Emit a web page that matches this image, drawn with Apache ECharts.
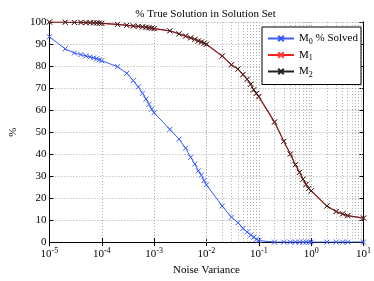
<!DOCTYPE html>
<html>
<head>
<meta charset="utf-8">
<script src="https://cdn.jsdelivr.net/npm/echarts@6/dist/echarts.min.js"></script>
<style>html,body{margin:0;padding:0;background:#fff}#c{width:374px;height:281px}</style>
</head>
<body>
<div id="c"></div>
<script>
const noiseVariance = [
  1e-5,2e-5,3e-5,4e-5,5e-5,6e-5,7e-5,8e-5,9e-5,
  1e-4,2e-4,3e-4,4e-4,5e-4,6e-4,7e-4,8e-4,9e-4,
  1e-3,2e-3,3e-3,4e-3,5e-3,6e-3,7e-3,8e-3,9e-3,
  1e-2,2e-2,3e-2,4e-2,5e-2,6e-2,7e-2,8e-2,9e-2,
  1e-1,2e-1,3e-1,4e-1,5e-1,6e-1,7e-1,8e-1,9e-1,
  1,2,3,4,5,10
];
const m0Solved = [
  93.3,87.8,85.9,85.2,84.6,84.1,83.7,83.3,82.8,
  82.4,79.7,76.7,73.4,70.5,67.6,65.0,62.6,60.4,
  58.8,51.2,46.8,42.7,38.5,35.5,32.4,30.4,28.0,
  26.0,16.4,11.3,8.8,6.2,4.6,3.2,2.2,1.3,
  0.7,0,0,0,0,0,0,0,0,
  0,0,0,0,0,0
];
const m1 = [
  100,99.9,99.8,99.8,99.7,99.7,99.6,99.6,99.5,
  99.4,98.9,98.5,98.2,98.0,97.8,97.6,97.4,97.2,
  97.0,96.0,94.6,93.6,92.8,92.1,91.4,90.9,90.4,
  89.9,84.5,80.5,78.6,76.1,74.0,71.7,69.2,67.5,
  66.0,54.5,45.8,40.0,35.1,31.7,28.6,26.2,24.4,
  23.3,16.4,13.9,12.8,12.0,10.9
];
const m2 = [
  100,99.9,99.8,99.8,99.7,99.7,99.6,99.6,99.5,
  99.4,98.9,98.5,98.2,98.0,97.8,97.6,97.4,97.2,
  97.0,96.0,94.6,93.6,92.8,92.1,91.4,90.9,90.4,
  89.9,84.6,80.6,78.6,76.2,74.0,71.8,69.2,67.6,
  66.1,54.6,45.8,40.0,35.2,31.7,28.6,26.2,24.4,
  23.3,16.4,13.9,12.8,12.0,10.9
];
const seriesNames = ['M0 % Solved','M1','M2'];
const titleText = '% True Solution in Solution Set';
const xName = 'Noise Variance';
const yName = '%';

const FONT = 'Liberation Serif';
const xMark = 'path://M0,0L10,10M10,0L0,10';

// minor grid positions on the log axis (2..9 within each decade)
const minorLines = [];
for (let k = -5; k <= 0; k++) {
  for (let d = 2; d <= 9; d++) minorLines.push({ xAxis: d * Math.pow(10, k) });
}

function pairs(ys) { return noiseVariance.map((x, i) => [x, ys[i]]); }

const chart = echarts.init(document.getElementById('c'), null, { renderer: 'canvas' });
const gridStyle = { type: [1, 2], color: '#ababab', width: 1 };
const rich = {
  b: { fontFamily: FONT, fontSize: 11, color: '#000' },
  s: { fontFamily: FONT, fontSize: 8, color: '#000', padding: [0, 0, 7, 0] },
  sub: { fontFamily: FONT, fontSize: 8, color: '#000', padding: [6, 0, 0, 0] }
};

chart.setOption({
  animation: false,
  backgroundColor: '#fff',
  title: {
    text: titleText, left: 200.5, top: 4, textAlign: 'center',
    textStyle: { fontFamily: FONT, fontSize: 11, fontWeight: 'normal', color: '#000' }
  },
  grid: { left: 37, right: 10, top: 22, bottom: 32, containLabel: false },
  legend: {
    orient: 'vertical', left: 262, top: 27,
    padding: [6, 3, 6, 5], itemGap: 4, itemWidth: 26, itemHeight: 7,
    borderColor: '#000', borderWidth: 1, backgroundColor: '#fff',
    data: seriesNames,
    formatter: function (n) {
      if (n === 'M0 % Solved') return '{b|M}{sub|0}{b| % Solved}';
      if (n === 'M1') return '{b|M}{sub|1}';
      return '{b|M}{sub|2}';
    },
    textStyle: { fontFamily: FONT, fontSize: 11, color: '#000', rich: rich }
  },
  xAxis: [{
    type: 'log', logBase: 10, min: 1e-5, max: 10,
    name: xName, nameLocation: 'middle', nameGap: 22,
    nameTextStyle: { fontFamily: FONT, fontSize: 11, color: '#000' },
    axisLine: { show: true, lineStyle: { color: '#000', width: 1 } },
    axisTick: { show: true, inside: true, length: 4, lineStyle: { color: '#000' } },
    axisLabel: {
      margin: 5, color: '#000',
      formatter: function (v) { return '{b|10}{s|' + Math.round(Math.log10(v)) + '}'; },
      rich: rich
    },
    splitLine: { show: true, lineStyle: gridStyle }
  }, {
    type: 'log', logBase: 10, min: 1e-5, max: 10, position: 'top',
    axisLine: { show: true, lineStyle: { color: '#000', width: 1 } },
    axisTick: { show: true, inside: true, length: 4, lineStyle: { color: '#000' } },
    axisLabel: { show: false }, splitLine: { show: false }
  }],
  yAxis: [{
    type: 'value', min: 0, max: 100, interval: 10,
    name: yName, nameLocation: 'middle', nameGap: 25, nameRotate: 90,
    nameTextStyle: { fontFamily: FONT, fontSize: 11, color: '#000' },
    axisLine: { show: true, lineStyle: { color: '#000', width: 1 } },
    axisTick: { show: true, inside: true, length: 4, lineStyle: { color: '#000' } },
    axisLabel: { margin: 3, fontFamily: FONT, fontSize: 11, color: '#000' },
    splitLine: { show: true, lineStyle: gridStyle }
  }, {
    type: 'value', min: 0, max: 100, interval: 10, position: 'right',
    axisLine: { show: true, lineStyle: { color: '#000', width: 1 } },
    axisTick: { show: true, inside: true, length: 4, lineStyle: { color: '#000' } },
    axisLabel: { show: false }, splitLine: { show: false }
  }],
  series: [{
    name: seriesNames[0], type: 'line', data: pairs(m0Solved),
    symbol: xMark, symbolSize: 5, showSymbol: true,
    lineStyle: { color: '#3a5cff', width: 1 },
    itemStyle: { color: '#3a5cff', borderColor: '#3a5cff', borderWidth: 1 },
    markLine: {
      silent: true, symbol: ['none', 'none'], label: { show: false }, z: 1,
      lineStyle: gridStyle, data: minorLines, animation: false
    }
  }, {
    name: seriesNames[1], type: 'line', data: pairs(m1),
    symbol: xMark, symbolSize: 5,
    lineStyle: { color: '#ff2020', width: 1.2 },
    itemStyle: { color: '#ff4040', borderColor: '#ff4040', borderWidth: 1 }
  }, {
    name: seriesNames[2], type: 'line', data: pairs(m2),
    symbol: xMark, symbolSize: 5,
    lineStyle: { color: '#222', width: 0.8 },
    itemStyle: { color: '#222', borderColor: '#222', borderWidth: 1 }
  }]
});
</script>
</body>
</html>
